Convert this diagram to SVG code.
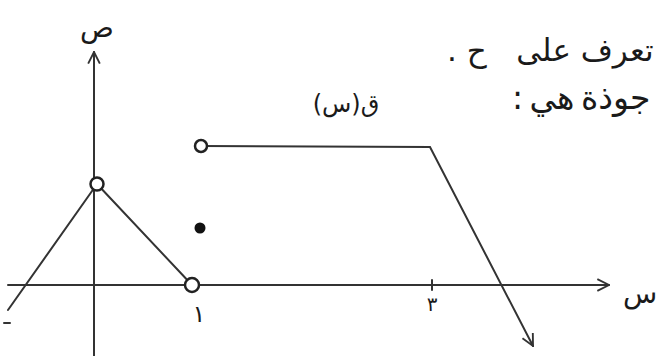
<svg xmlns="http://www.w3.org/2000/svg" width="657" height="356" viewBox="0 0 657 356">
<style>
.ln{stroke:#333;stroke-width:2;fill:none;stroke-linecap:round}
.hole{fill:#fff;stroke:#222;stroke-width:2.5}
.t{font-family:"DejaVu Sans",sans-serif;fill:#1a1a1a}
</style>
<defs>
<marker id="arr" viewBox="0 0 12 12" refX="11" refY="6" markerWidth="14" markerHeight="14" markerUnits="userSpaceOnUse" orient="auto">
<path d="M1,1 L11,6 L1,11" fill="none" stroke="#333" stroke-width="1.6"/>
</marker>
</defs>
<rect width="657" height="356" fill="#fff"/>
<g id="text-header">
<text class="t" x="447" y="61" font-size="31" direction="rtl" text-anchor="end" xml:space="preserve">تعرف على   ح .</text>
<text class="t" x="512" y="109" font-size="33" direction="rtl" text-anchor="end" word-spacing="-4">جوذة هي :</text>
</g>
<g id="axes">
<line class="ln" x1="94" y1="356" x2="94" y2="52" marker-end="url(#arr)"/>
<line class="ln" x1="8" y1="285" x2="609" y2="285" marker-end="url(#arr)"/>
<line class="ln" x1="432" y1="280" x2="432" y2="290"/>
<text class="t" x="97" y="37" font-size="28" text-anchor="middle">ص</text>
<text class="t" x="640" y="303" font-size="28" text-anchor="middle">س</text>
<text class="t" x="199" y="322" font-size="24" text-anchor="middle">١</text>
<text class="t" x="432" y="311" font-size="20" text-anchor="middle">٣</text>
</g>
<g id="connectors">
<line class="ln" x1="97" y1="184" x2="8" y2="310"/>
<line class="ln" x1="97" y1="184" x2="192" y2="285"/>
<line class="ln" x1="4" y1="323" x2="10" y2="323"/>
<polyline class="ln" points="201,146 430,147 533,346" marker-end="url(#arr)"/>
</g>
<g id="point-a"><circle class="hole" cx="97" cy="184" r="6.5"/></g>
<g id="point-b"><circle class="hole" cx="192" cy="285" r="7"/></g>
<g id="point-c"><circle cx="200" cy="228" r="5.5" fill="#111"/></g>
<g id="point-d"><circle class="hole" cx="201" cy="146" r="6"/></g>
<g id="label-f"><text class="t" x="346" y="112" font-size="24" direction="rtl" text-anchor="middle">ق(س)</text></g>
</svg>
